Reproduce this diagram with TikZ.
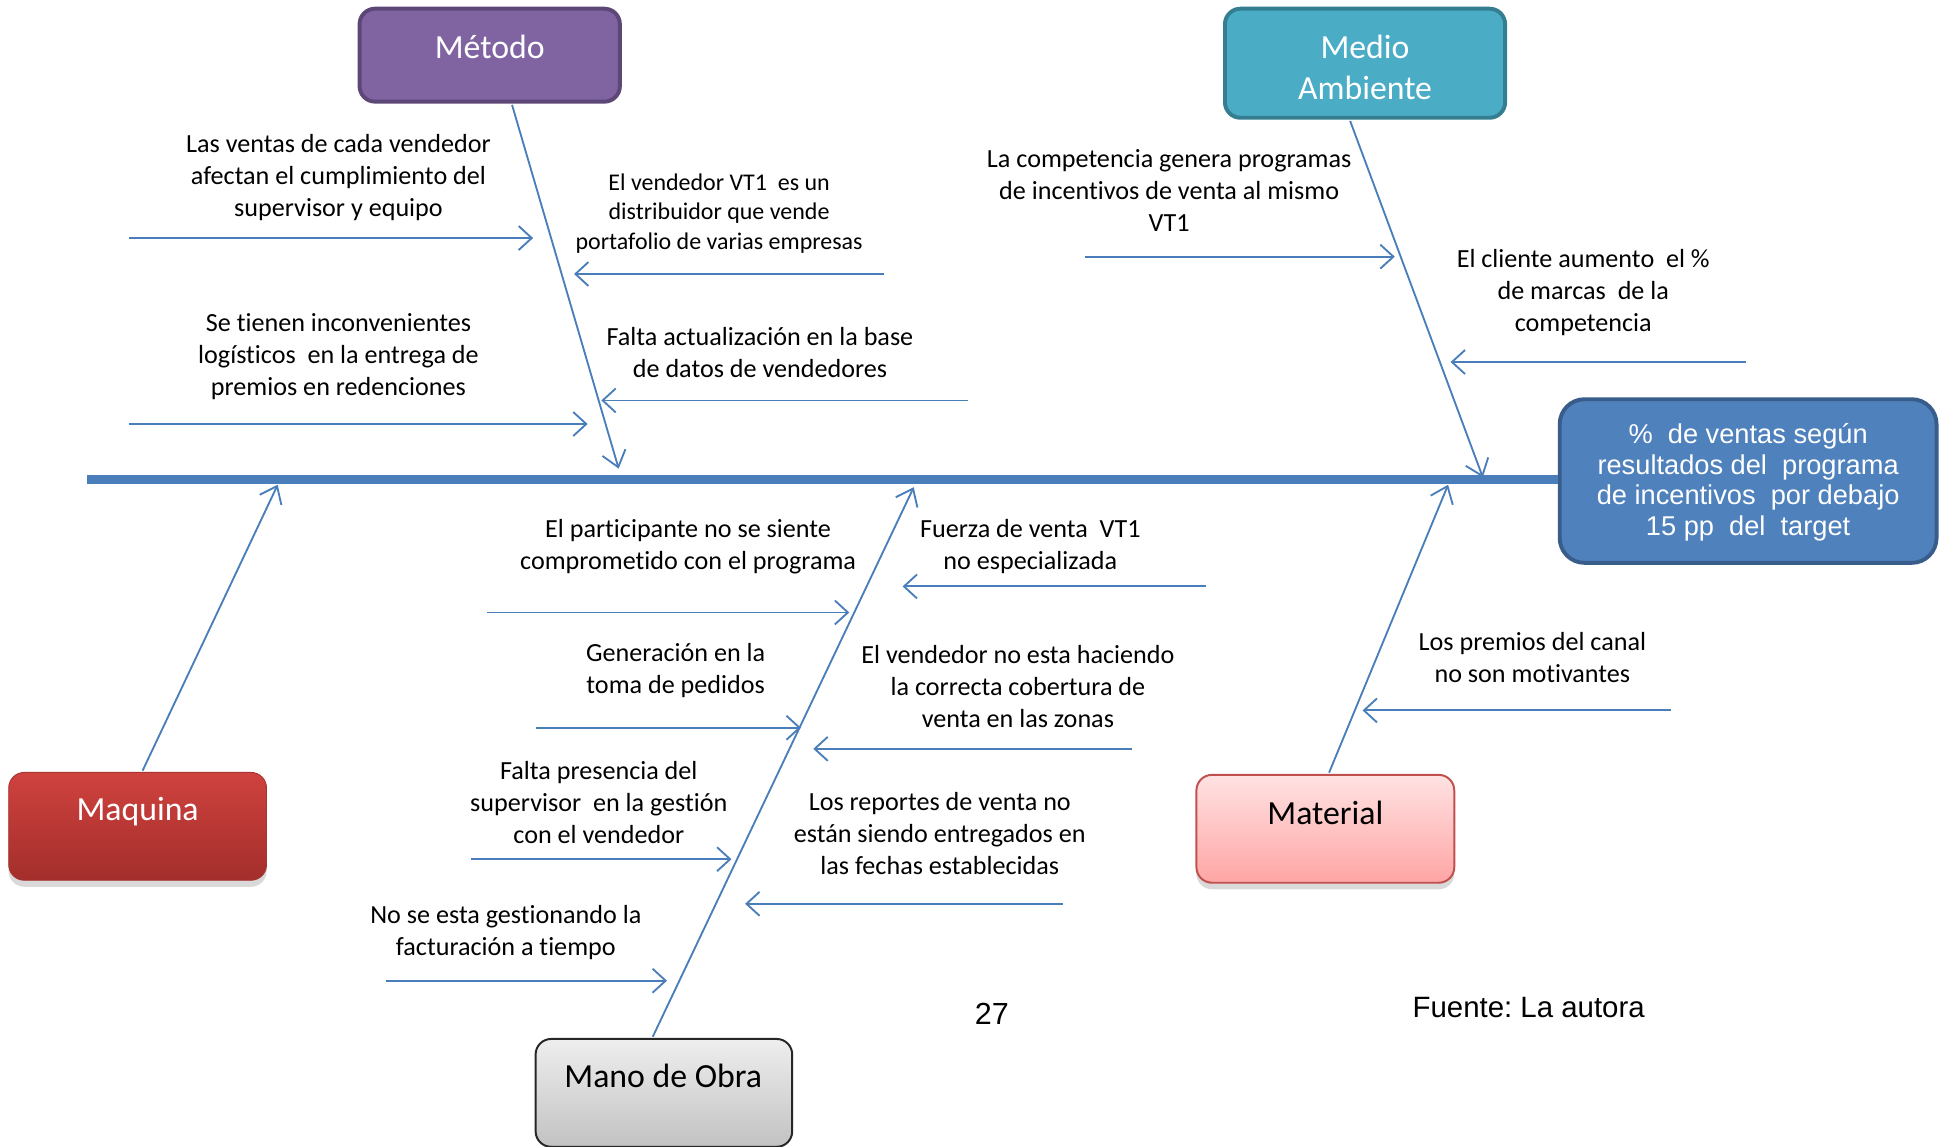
\documentclass[tikz,border=0pt]{standalone}
\usepackage{fontspec}
\setmainfont{Carlito}[Ligatures={NoCommon}]
\newfontfamily\arialf{Liberation Sans}
\frenchspacing
\usetikzlibrary{arrows.meta,shadows,calc}
\definecolor{bonec}{HTML}{4A7EBB}
\definecolor{purpf}{HTML}{8064A2}
\definecolor{purpd}{HTML}{5C4776}
\definecolor{tealf}{HTML}{4BACC6}
\definecolor{teald}{HTML}{357D91}
\definecolor{bluef}{HTML}{4F81BD}
\definecolor{blued}{HTML}{385D8A}
\definecolor{redt}{HTML}{CF423E}
\definecolor{redb}{HTML}{A32E2B}
\definecolor{pinkt}{HTML}{FFE2E2}
\definecolor{pinkb}{HTML}{FFA5A5}
\definecolor{pinkd}{HTML}{C0504D}
\definecolor{grayt}{HTML}{EEEEEE}
\definecolor{grayb}{HTML}{C2C2C2}
\tikzset{
  spine/.style={draw=bonec, line width=4pt},
  bone/.style={draw=bonec, line width=0.85pt, -{Straight Barb[length=7pt,width=11pt]}},
  cause/.style={draw=bonec, line width=0.85pt, -{Straight Barb[length=6pt,width=11pt]}},
  lbl/.style={align=center, font=\fontsize{12}{14.7}\selectfont, inner sep=0pt},
  slbl/.style={align=center, font=\fontsize{11}{13.6}\selectfont, inner sep=0pt},
  ttl/.style={align=center, font=\fontsize{15.5}{18.7}\selectfont, inner sep=0pt},
  catbox/.style={rounded corners=0.25cm, minimum width=#1, inner sep=0pt},
  sh/.style={drop shadow={shadow xshift=0pt, shadow yshift=-3pt, opacity=0.3, fill=black!50}}
}
\begin{document}
\begin{tikzpicture}[x=0.02cm,y=-0.02cm]
\useasboundingbox (0,0) rectangle (1568,924.4);

% boxes
\node[catbox=4.2cm, minimum height=1.5cm, fill=purpf, draw=purpd, line width=1.8pt] (metodo) at (395,44.5) {};
\node[catbox=4.52cm, minimum height=1.76cm, fill=tealf, draw=teald, line width=1.8pt] (medio) at (1101,51) {};
\node[catbox=6.08cm, minimum height=2.64cm, rounded corners=0.4cm, fill=bluef, draw=blued, line width=1.8pt] (efecto) at (1410,388) {};
\node[catbox=4.16cm, minimum height=1.74cm, top color=redt, bottom color=redb, draw=redt!80!black, line width=0.4pt, sh] (maquina) at (111,666.5) {};
\node[catbox=4.16cm, minimum height=1.74cm, top color=pinkt, bottom color=pinkb, draw=pinkd, line width=0.9pt, sh] (material) at (1069,668.5) {};
\node[catbox=4.14cm, minimum height=1.74cm, top color=grayt, bottom color=grayb, draw=black!85, line width=0.9pt] (mano) at (535.5,881.5) {};

% box texts
\node[ttl, text=white] (metodoT) at (395,38) {Método};
\node[ttl, text=white] (medioT) at (1101,54.5) {Medio\\Ambiente};
\node[align=center, text=white, inner sep=0pt, font=\arialf\fontsize{12.5}{14}\selectfont] (efectoT) at (1410,389) {\%~ de ventas según\\resultados del~ programa\\de incentivos~ por debajo\\15 pp~ del~ target};
\node[ttl, text=white] (maquinaT) at (111,655) {Maquina};
\node[ttl, text=black] (materialT) at (1069,656) {Material};
\node[ttl, text=black] (manoT) at (535,868) {Mano de Obra};

% spine
\coordinate (spL) at (70,387);
\draw[spine] (spL) -- (spL -| efecto.west);

% bone end points
\coordinate (eMet) at (499,378);
\coordinate (eMed) at (1196,385);
\coordinate (eMaq) at (224,391);
\coordinate (eMan) at (737,393);
\coordinate (eMat) at (1168,391);
\draw[bone] ($(metodo.south)+(18,1)$) -- (eMet);
\draw[bone] ($(medio.south)+(-12,1)$) -- (eMed);
\draw[bone] ($(maquina.north)+(4,-1)$) -- (eMaq);
\draw[bone] ($(mano.north)+(-9,-1)$) -- (eMan);
\draw[bone] ($(material.north)+(3,-1)$) -- (eMat);

% Metodo causes
\node[lbl] (t1) at (273,143) {Las ventas de cada vendedor\\afectan el cumplimiento del\\supervisor y equipo};
\coordinate (a1) at (104,192); \coordinate (b1) at (430,192);
\draw[cause] (a1) -- (b1);
\node[slbl] (t2) at (580,172) {El vendedor VT1~ es un\\distribuidor que vende\\portafolio de varias empresas};
\coordinate (a2) at (713,221); \coordinate (b2) at (463,221);
\draw[cause] (a2) -- (b2);
\node[lbl] (t3) at (273,287.5) {Se tienen inconvenientes\\logísticos~ en la entrega de\\premios en redenciones};
\coordinate (a3) at (104,342); \coordinate (b3) at (474,342);
\draw[cause] (a3) -- (b3);
\node[lbl] (t4) at (613,284) {Falta actualización en la base\\de datos de vendedores};
\coordinate (a4) at (781,323); \coordinate (b4) at (485,323);
\draw[cause] (a4) -- (b4);

% Medio Ambiente causes
\node[lbl] (t5) at (943,154) {La competencia genera programas\\de incentivos de venta al mismo\\VT1};
\coordinate (a5) at (875,207); \coordinate (b5) at (1125,207);
\draw[cause] (a5) -- (b5);
\node[lbl] (t6) at (1277,236) {El cliente aumento~ el \%\\de marcas~ de la\\competencia};
\coordinate (a6) at (1408,292); \coordinate (b6) at (1170,292);
\draw[cause] (a6) -- (b6);

% Mano de Obra causes
\node[lbl] (t7) at (555,441) {El participante no se siente\\comprometido con el programa};
\coordinate (a7) at (393,494); \coordinate (b7) at (685,494);
\draw[cause] (a7) -- (b7);
\node[lbl] (t8) at (545,541) {Generación en la\\toma de pedidos};
\coordinate (a8) at (432,587); \coordinate (b8) at (646,587);
\draw[cause] (a8) -- (b8);
\node[lbl] (t9) at (483,647.5) {Falta presencia del\\supervisor~ en la gestión\\con el vendedor};
\coordinate (a9) at (380,693); \coordinate (b9) at (590,693);
\draw[cause] (a9) -- (b9);
\node[lbl] (t10) at (408,752.5) {No se esta gestionando la\\facturación a tiempo};
\coordinate (a10) at (311,791); \coordinate (b10) at (538,791);
\draw[cause] (a10) -- (b10);

\node[lbl] (t11) at (831,441) {Fuerza de venta~ VT1\\no especializada};
\coordinate (a11) at (973,473); \coordinate (b11) at (728,473);
\draw[cause] (a11) -- (b11);
\node[lbl] (t12) at (821,554) {El vendedor no esta haciendo\\la correcta cobertura de\\venta en las zonas};
\coordinate (a12) at (913,604); \coordinate (b12) at (656,604);
\draw[cause] (a12) -- (b12);
\node[lbl] (t13) at (758,672) {Los reportes de venta no\\están siendo entregados en\\las fechas establecidas};
\coordinate (a13) at (857,729); \coordinate (b13) at (601,729);
\draw[cause] (a13) -- (b13);

% Material cause
\node[lbl] (t14) at (1236,530) {Los premios del canal\\no son motivantes};
\coordinate (a14) at (1348,573); \coordinate (b14) at (1099,573);
\draw[cause] (a14) -- (b14);

% footer
\node[inner sep=0pt, font=\arialf\fontsize{14}{16}\selectfont] (pg) at (800,818) {27};
\node[inner sep=0pt, font=\arialf\fontsize{13.5}{16}\selectfont] (src) at (1233,813) {Fuente: La autora};
\end{tikzpicture}
\end{document}
